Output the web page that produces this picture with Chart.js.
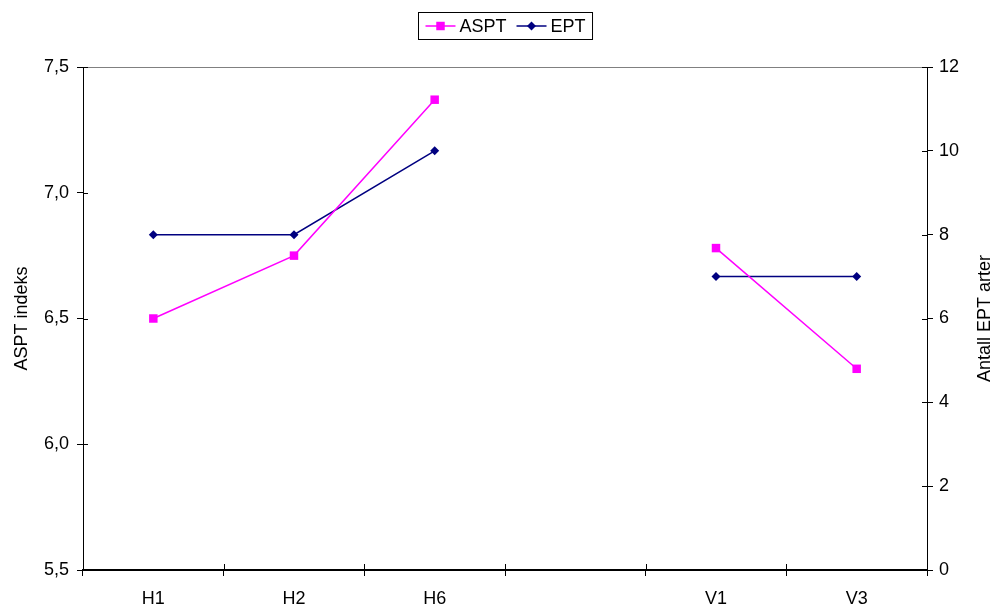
<!DOCTYPE html>
<html><head><meta charset="utf-8">
<script src="https://cdn.jsdelivr.net/npm/chart.js@4.4.0/dist/chart.umd.min.js"></script>
<style>html,body{margin:0;padding:0;background:#fff;}</style>
</head><body>
<canvas id="c" width="993" height="607" style="display:block;width:993px;height:607px"></canvas>
<script>
const categories = ['H1', 'H2', 'H6', '', 'V1', 'V3'];
const asptValues = [6.5, 6.75, 7.37, null, 6.78, 6.3];
const eptValues = [8, 8, 10, null, 7, 7];
const leftAxis = { min: 5.5, max: 7.5, step: 0.5 };
const rightAxis = { min: 0, max: 12, step: 2 };
const seriesNames = ['ASPT', 'EPT'];
const axisTitles = ['ASPT indeks', 'Antall EPT arter'];

const FONT = 'Liberation Sans, Arial, sans-serif';
const FS = 18;

function hline(ctx, x1, y1, x2, y2) { ctx.beginPath(); ctx.moveTo(x1, y1); ctx.lineTo(x2, y2); ctx.stroke(); }

const decor = {
  id: 'decor',
  afterDraw(chart) {
    const ctx = chart.ctx, a = chart.chartArea;
    const yl = chart.scales.y, yr = chart.scales.y1, xs = chart.scales.x;
    ctx.save();
    ctx.strokeStyle = '#808080'; ctx.lineWidth = 1;
    hline(ctx, a.left, Math.round(a.top) + 0.5, a.right, Math.round(a.top) + 0.5);
    ctx.strokeStyle = '#000';
    yl.ticks.forEach((t, i) => { const p = Math.round(yl.getPixelForTick(i)) + 0.5; hline(ctx, a.left, p, a.left + 5, p); });
    yr.ticks.forEach((t, i) => { const p = Math.round(yr.getPixelForTick(i)) + 0.5; hline(ctx, a.right - 5, p, a.right, p); });
    for (let i = 1; i < categories.length; i++) {
      const b = Math.round((xs.getPixelForValue(i - 1) + xs.getPixelForValue(i)) / 2) + 0.5;
      hline(ctx, b, a.bottom - 6, b, a.bottom);
    }
    // right axis title (reads bottom to top)
    ctx.save();
    ctx.font = FS + 'px ' + FONT; ctx.fillStyle = '#000';
    ctx.translate(yr.right - 8, (a.top + a.bottom) / 2);
    ctx.rotate(-Math.PI / 2);
    ctx.textAlign = 'center'; ctx.textBaseline = 'middle';
    ctx.fillText(axisTitles[1], 0, 0);
    ctx.restore();
    // legend
    ctx.font = FS + 'px ' + FONT;
    const pad = 7, lineLen = 30, gap = 4, itemGap = 10;
    const items = chart.data.datasets.map(ds => ({ ds, w: ctx.measureText(ds.label).width }));
    let total = pad * 2;
    items.forEach((it, i) => { total += lineLen + gap + it.w + (i < items.length - 1 ? itemGap : 0); });
    const cx = (a.left + a.right) / 2;
    const bx = Math.round(cx - total / 2) + 0.5, by = 12.5, bh = 27;
    ctx.strokeStyle = '#000'; ctx.lineWidth = 1;
    ctx.strokeRect(bx, by, total, bh);
    const my = by + bh / 2;
    let x = bx + pad;
    items.forEach(it => {
      const ds = it.ds;
      ctx.strokeStyle = ds.borderColor; ctx.fillStyle = ds.backgroundColor; ctx.lineWidth = ds.borderWidth;
      hline(ctx, x, my, x + lineLen, my);
      Chart.helpers.drawPoint(ctx, { pointStyle: ds.pointStyle, radius: ds.pointRadius, borderWidth: 0, rotation: 0 }, x + lineLen / 2, my);
      x += lineLen + gap;
      ctx.fillStyle = '#000'; ctx.textAlign = 'left'; ctx.textBaseline = 'middle';
      ctx.fillText(ds.label, x, my + 1);
      x += it.w + itemGap;
    });
    ctx.restore();
  }
};

new Chart(document.getElementById('c'), {
  type: 'line',
  data: {
    labels: categories,
    datasets: [
      { label: seriesNames[0], data: asptValues, yAxisID: 'y', borderColor: '#FF00FF', backgroundColor: '#FF00FF',
        borderWidth: 1.5, pointStyle: 'rect', pointRadius: 6, pointBorderWidth: 0, pointHoverRadius: 6, tension: 0, spanGaps: false },
      { label: seriesNames[1], data: eptValues, yAxisID: 'y1', borderColor: '#000080', backgroundColor: '#000080',
        borderWidth: 1.5, pointStyle: 'rectRot', pointRadius: 4.5, pointBorderWidth: 0, pointHoverRadius: 4.5, tension: 0, spanGaps: false }
    ]
  },
  options: {
    responsive: false,
    animation: false,
    devicePixelRatio: 1,
    layout: { padding: { top: 67, left: 0, right: 0, bottom: 0 } },
    plugins: { legend: { display: false }, tooltip: { enabled: false } },
    scales: {
      x: {
        type: 'category', offset: true,
        grid: { offset: true, drawOnChartArea: false, drawTicks: true, tickLength: 6, color: '#000' },
        border: { display: true, color: '#000', width: 2 },
        ticks: { font: { family: FONT, size: FS }, color: '#000', padding: 12, maxRotation: 0, autoSkip: false },
        afterFit: s => { s.height = 37; }
      },
      y: {
        position: 'left', min: leftAxis.min, max: leftAxis.max,
        grid: { drawOnChartArea: false, drawTicks: true, tickLength: 6, color: '#000' },
        border: { display: true, color: '#000', width: 1 },
        ticks: { stepSize: leftAxis.step, font: { family: FONT, size: FS }, color: '#000', padding: 8,
          callback: v => v.toFixed(1).replace('.', ',') },
        title: { display: true, text: axisTitles[0], font: { family: FONT, size: FS }, color: '#000', padding: { top: 11, bottom: 0 } },
        afterFit: s => { s.width = 83; }
      },
      y1: {
        position: 'right', min: rightAxis.min, max: rightAxis.max,
        grid: { drawOnChartArea: false, drawTicks: true, tickLength: 6, color: '#000' },
        border: { display: true, color: '#000', width: 1 },
        ticks: { stepSize: rightAxis.step, font: { family: FONT, size: FS }, color: '#000', padding: 6 },
        afterFit: s => { s.width = 66; }
      }
    }
  },
  plugins: [decor]
});
</script>
</body></html>
